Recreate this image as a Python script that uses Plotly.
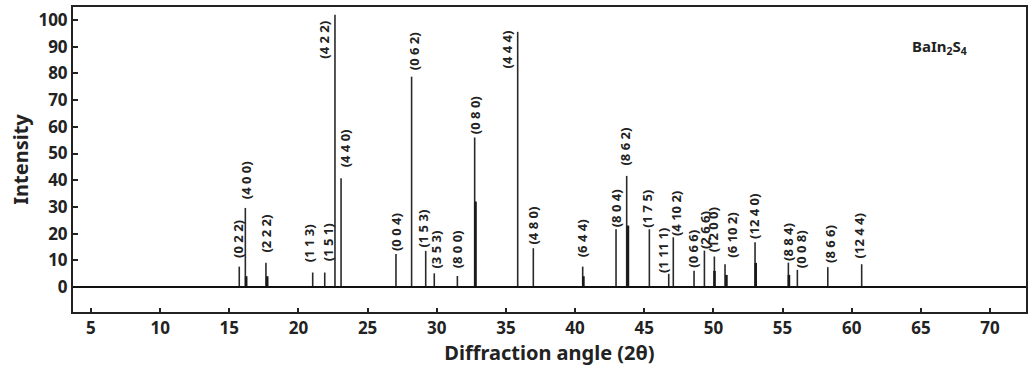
import plotly.graph_objects as go

# ---- data ----
peak_pos = [15.72, 16.16, 17.65, 21.03, 21.90, 22.64, 23.08, 27.05, 28.18, 29.20,
            29.82, 31.49, 32.74, 35.85, 36.98, 40.55, 42.96, 43.73, 45.37, 46.77,
            47.10, 48.60, 49.35, 50.07, 50.84, 53.01, 55.42, 56.07, 58.27, 60.72]
peak_int = [7.6, 29.6, 9.1, 5.4, 5.4, 102.0, 40.7, 12.3, 78.8, 13.5,
            5.1, 4.1, 56.0, 95.6, 14.5, 7.6, 21.6, 41.6, 21.6, 4.9,
            18.6, 6.1, 13.6, 11.4, 8.5, 16.7, 9.1, 6.4, 7.4, 8.5]
peak_hkl = ["(0 2 2)", "(4 0 0)", "(2 2 2)", "(1 1 3)", "(1 5 1)", "(4 2 2)", "(4 4 0)",
            "(0 0 4)", "(0 6 2)", "(1 5 3)", "(3 5 3)", "(8 0 0)", "(0 8 0)", "(4 4 4)",
            "(4 8 0)", "(6 4 4)", "(8 0 4)", "(8 6 2)", "(1 7 5)", "(1 11 1)", "(4 10 2)",
            "(0 6 6)", "(2 6 6)", "(12 0 0)", "(6 10 2)", "(12 4 0)", "(8 8 4)", "(0 0 8)",
            "(8 6 6)", "(12 4 4)"]

# overlapping secondary reflections (drawn as heavier strokes)
sec_pos = [16.22, 17.74, 32.80, 40.60, 43.82, 50.08, 50.94, 53.06, 55.46]
sec_int = [4.0, 4.0, 32.0, 4.0, 23.0, 6.0, 4.5, 9.0, 4.5]

x_ticks = [5, 10, 15, 20, 25, 30, 35, 40, 45, 50, 55, 60, 65, 70]
y_ticks = [0, 10, 20, 30, 40, 50, 60, 70, 80, 90, 100]

# ---- label placement (pixel offsets: xshift, gap above peak) ----
label_style = {
    "(0 2 2)": (-2, 8), "(4 0 0)": (1, 8), "(2 2 2)": (0, 9), "(1 1 3)": (-4, 9),
    "(1 5 1)": (3, 10), "(4 4 0)": (4, 10), "(0 0 4)": (0, 2), "(0 6 2)": (2, 5),
    "(1 5 3)": (-3, 2), "(3 5 3)": (2, 4), "(8 0 0)": (0, 7), "(0 8 0)": (1, 2),
    "(4 8 0)": (0, 3), "(6 4 4)": (-1, 8), "(8 0 4)": (0, 1), "(8 6 2)": (-2, 9),
    "(1 7 5)": (-2, 1), "(1 11 1)": (-5, 0), "(4 10 2)": (2, 0), "(0 6 6)": (-1, 2),
    "(2 6 6)": (0, 1), "(12 0 0)": (-1, 3), "(6 10 2)": (7, 5), "(12 4 0)": (-1, 2),
    "(8 8 4)": (-1, 1), "(0 0 8)": (3, 1), "(8 6 6)": (2, 3), "(12 4 4)": (-3, 5),
}
side_labels = {"(4 2 2)": (-11, -5), "(4 4 4)": (-11, 2)}

LABEL_FONT = dict(family="Noto Sans", size=13, color="#222", weight="bold")

def stems(xs, ys):
    sx, sy = [], []
    for x, y in zip(xs, ys):
        sx += [x, x, None]
        sy += [0, y, None]
    return sx, sy

fig = go.Figure()
px, py = stems(peak_pos, peak_int)
fig.add_trace(go.Scatter(x=px, y=py, mode="lines",
                         line=dict(color="#2a2a2a", width=1.6), hoverinfo="skip"))
sx, sy = stems(sec_pos, sec_int)
fig.add_trace(go.Scatter(x=sx, y=sy, mode="lines",
                         line=dict(color="#1a1a1a", width=2.6), hoverinfo="skip"))

ann = []
for x, y, t in zip(peak_pos, peak_int, peak_hkl):
    if t in side_labels:
        xs, ys = side_labels[t]
        ann.append(dict(x=x, y=y, text=t, textangle=-90, showarrow=False,
                        xanchor="center", yanchor="top", xshift=xs, yshift=ys,
                        font=LABEL_FONT, borderpad=0))
    else:
        xs, gap = label_style[t]
        ann.append(dict(x=x, y=y, text=t, textangle=-90, showarrow=False,
                        xanchor="center", yanchor="bottom", xshift=xs, yshift=gap,
                        font=LABEL_FONT, borderpad=0))

ann.append(dict(x=0.909, y=0.87, xref="paper", yref="paper", showarrow=False,
                text="<b>BaIn<sub>2</sub>S<sub>4</sub></b>",
                font=dict(family="Noto Sans", size=15, color="#222"),
                xanchor="center", yanchor="middle"))

fig.update_layout(
    width=1035, height=366,
    margin=dict(l=73, r=9, t=7, b=54),
    paper_bgcolor="white", plot_bgcolor="white",
    showlegend=False,
    font=dict(family="Noto Sans", color="#222"),
    annotations=ann,
    shapes=[dict(type="line", xref="paper", yref="y", x0=0, x1=1, y0=0, y1=0,
                 line=dict(color="#111", width=2))],
)
fig.update_xaxes(
    range=[3.7, 72.6], tickvals=x_ticks, ticks="inside", ticklen=4, tickwidth=2,
    tickcolor="#222", showline=True, linecolor="#222", linewidth=2, mirror=True,
    showgrid=False, zeroline=False, automargin=False,
    tickfont=dict(family="Noto Sans", size=17, color="#222", weight="bold"),
    title=dict(text="<b>Diffraction angle (2θ)</b>", standoff=9,
               font=dict(family="Noto Sans", size=20, color="#222")),
)
fig.update_yaxes(
    range=[-9.4, 104.9], tickvals=y_ticks, ticks="inside", ticklen=5, tickwidth=2,
    tickcolor="#222", showline=True, linecolor="#222", linewidth=2, mirror=True,
    showgrid=False, zeroline=False, automargin=False,
    tickfont=dict(family="Noto Sans", size=17, color="#222", weight="bold"),
    title=dict(text="<b>Intensity</b>", standoff=4,
               font=dict(family="Noto Sans", size=20, color="#222")),
)

fig.write_html("out.html")
